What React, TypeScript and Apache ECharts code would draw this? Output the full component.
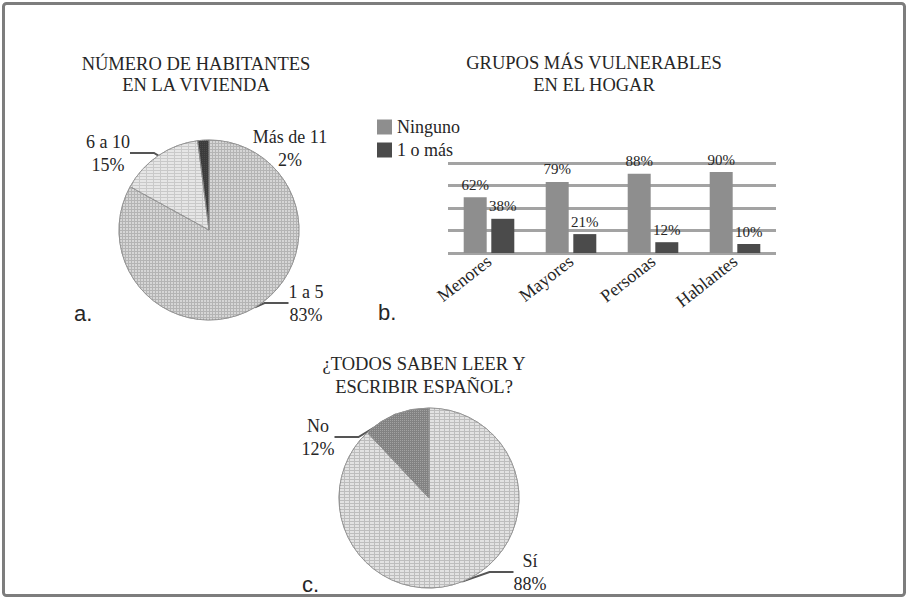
import React, { useEffect, useRef } from "react";
import * as echarts from "echarts";

// ---- Data ----
const householdLabels = ["1 a 5", "6 a 10", "Más de 11"];
const householdShares = [83, 15, 2];

const groupCategories = ["Menores", "Mayores", "Personas", "Hablantes"];
const groupSeriesNames = ["Ninguno", "1 o más"];
const noneShares = [62, 79, 88, 90];
const oneOrMoreShares = [38, 21, 12, 10];
const groupAxisTicks = [0, 25, 50, 75, 100];

const literacyLabels = ["Sí", "No"];
const literacyShares = [88, 12];

const titleA = "NÚMERO DE HABITANTES\nEN LA VIVIENDA";
const titleB = "GRUPOS MÁS VULNERABLES\nEN EL HOGAR";
const titleC = "¿TODOS SABEN LEER Y\nESCRIBIR ESPAÑOL?";
const panelLetters = ["a.", "b.", "c."];

// ---- Styles ----
const SERIF = "Liberation Serif";
const SANS = "Liberation Sans";
const TEXT = "#262626";

const householdStyles = [
  { color: "#b4b4b4", decal: { symbol: "rect", symbolSize: 1, dashArrayX: [2, 1], dashArrayY: [2, 1], color: "#d6d6d6" } },
  { color: "#c9c9c9", decal: { symbol: "rect", symbolSize: 1, dashArrayX: [6, 1], dashArrayY: [2, 1], color: "#e6e6e6" } },
  { color: "#3c3c3c", decal: { symbol: "rect", symbolSize: 1, dashArrayX: [1, 1], dashArrayY: [1, 1], color: "#4a4a4a" } },
];
const literacyStyles = [
  { color: "#bdbdbd", decal: { symbol: "rect", symbolSize: 1, dashArrayX: [4, 1], dashArrayY: [2, 1], color: "#e2e2e2" } },
  { color: "#828282", decal: { symbol: "rect", symbolSize: 1, dashArrayX: [1, 1], dashArrayY: [1, 1], color: "#a2a2a2" } },
];
const barColors = ["#8e8e8e", "#4b4b4b"];

// label anchor positions (layout only), by data index
const pieALabelPos: [number, number][] = [
  [306, 303],
  [108, 153],
  [290, 148],
];
const pieCLabelPos: [number, number][] = [
  [530, 572],
  [318, 437],
];

export default function App() {
  const ref = useRef<HTMLDivElement>(null);

  useEffect(() => {
    if (!ref.current) return;
    const chart = echarts.init(ref.current, undefined, { renderer: "svg" });

    const pieLabelStyle = {
      fontFamily: SERIF,
      fontSize: 18,
      lineHeight: 23,
      color: TEXT,
    };

    const option: any = {
      animation: false,
      backgroundColor: "#ffffff",
      textStyle: { fontFamily: SERIF },
      graphic: [
        {
          type: "rect",
          z: -10,
          shape: { x: 3.5, y: 3.5, width: 901, height: 592, r: 3 },
          style: { fill: "#ffffff", stroke: "#7d7d7d", lineWidth: 3 },
        },
        {
          type: "text",
          x: 196,
          y: 53,
          style: {
            text: titleA,
            fontFamily: SERIF,
            fontSize: 18.5,
            lineHeight: 21,
            textAlign: "center",
            fill: TEXT,
          },
        },
        {
          type: "text",
          x: 594,
          y: 52,
          style: {
            text: titleB,
            fontFamily: SERIF,
            fontSize: 18.5,
            lineHeight: 22,
            textAlign: "center",
            fill: TEXT,
          },
        },
        {
          type: "text",
          x: 424,
          y: 352,
          style: {
            text: titleC,
            fontFamily: SERIF,
            fontSize: 18.5,
            lineHeight: 23,
            textAlign: "center",
            fill: TEXT,
          },
        },
        {
          type: "text",
          x: 74,
          y: 302,
          style: { text: panelLetters[0], fontFamily: SANS, fontSize: 22, fill: TEXT },
        },
        {
          type: "text",
          x: 378,
          y: 301,
          style: { text: panelLetters[1], fontFamily: SANS, fontSize: 22, fill: TEXT },
        },
        {
          type: "text",
          x: 302,
          y: 573,
          style: { text: panelLetters[2], fontFamily: SANS, fontSize: 22, fill: TEXT },
        },
      ],
      legend: {
        data: groupSeriesNames,
        orient: "vertical",
        left: 372,
        top: 113,
        itemWidth: 15,
        itemHeight: 15,
        itemGap: 5,
        icon: "rect",
        textStyle: { fontFamily: SERIF, fontSize: 18, color: TEXT },
      },
      grid: { left: 448, right: 132, top: 163, bottom: 347 },
      xAxis: {
        type: "category",
        data: groupCategories,
        axisLine: { show: false },
        axisTick: { show: false },
        axisLabel: {
          rotate: 38,
          margin: 6,
          fontFamily: SERIF,
          fontSize: 18,
          color: TEXT,
        },
      },
      yAxis: {
        type: "value",
        min: groupAxisTicks[0],
        max: groupAxisTicks[groupAxisTicks.length - 1],
        interval: groupAxisTicks[1] - groupAxisTicks[0],
        axisLabel: { show: false },
        axisLine: { show: false },
        axisTick: { show: false },
        splitLine: { lineStyle: { color: "#a3a3a3", width: 3 } },
      },
      series: [
        {
          type: "bar",
          name: groupSeriesNames[0],
          data: noneShares,
          barWidth: 23,
          barGap: "20%",
          itemStyle: { color: barColors[0] },
          label: {
            show: true,
            position: "top",
            distance: 5,
            formatter: "{c}%",
            fontFamily: SERIF,
            fontSize: 15,
            color: TEXT,
          },
        },
        {
          type: "bar",
          name: groupSeriesNames[1],
          data: oneOrMoreShares,
          barWidth: 23,
          barGap: "20%",
          itemStyle: { color: barColors[1] },
          label: {
            show: true,
            position: "top",
            distance: 5,
            formatter: "{c}%",
            fontFamily: SERIF,
            fontSize: 15,
            color: TEXT,
          },
        },
        {
          type: "pie",
          name: "habitantes",
          center: [209, 230],
          radius: 90,
          startAngle: 90,
          clockwise: true,
          data: householdLabels.map((n, i) => ({
            name: n,
            value: householdShares[i],
            itemStyle: householdStyles[i],
            labelLine: { show: i !== 2 },
          })),
          itemStyle: { borderColor: "#8f8f8f", borderWidth: 0.8 },
          label: {
            show: true,
            position: "outside",
            formatter: "{b}\n{c}%",
            align: "center",
            ...pieLabelStyle,
          },
          labelLine: {
            show: true,
            length: 4,
            length2: 24,
            lineStyle: { color: "#555555", width: 2 },
          },
          labelLayout: (p: any) => {
            const pos = pieALabelPos[p.dataIndex];
            if (!pos) return {};
            return { x: pos[0], y: pos[1], align: "center", verticalAlign: "middle" };
          },
        },
        {
          type: "pie",
          name: "lectura",
          center: [429, 498],
          radius: 90,
          startAngle: 90,
          clockwise: true,
          data: literacyLabels.map((n, i) => ({
            name: n,
            value: literacyShares[i],
            itemStyle: literacyStyles[i],
          })),
          itemStyle: { borderColor: "#8f8f8f", borderWidth: 0.8 },
          label: {
            show: true,
            position: "outside",
            formatter: "{b}\n{c}%",
            align: "center",
            ...pieLabelStyle,
          },
          labelLine: {
            show: true,
            length: 4,
            length2: 24,
            lineStyle: { color: "#555555", width: 2 },
          },
          labelLayout: (p: any) => {
            const pos = pieCLabelPos[p.dataIndex];
            if (!pos) return {};
            return { x: pos[0], y: pos[1], align: "center", verticalAlign: "middle" };
          },
        },
      ],
    };

    chart.setOption(option);
    return () => chart.dispose();
  }, []);

  return (
    <div
      ref={ref}
      style={{ position: "fixed", left: 0, top: 0, width: 908, height: 600 }}
    />
  );
}
